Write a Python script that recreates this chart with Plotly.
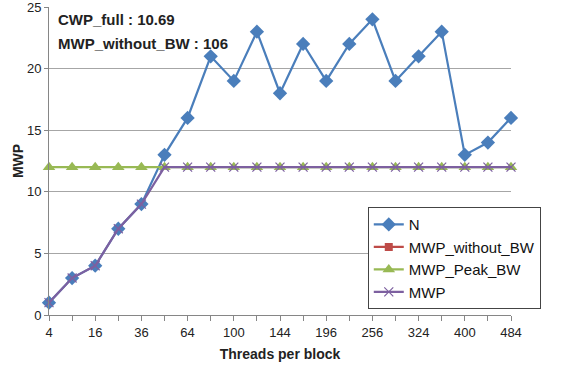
import plotly.graph_objects as go

threads = [4, 9, 16, 25, 36, 49, 64, 81, 100, 121, 144, 169, 196, 225, 256, 289, 324, 361, 400, 441, 484]
n_vals = [1, 3, 4, 7, 9, 13, 16, 21, 19, 23, 18, 22, 19, 22, 24, 19, 21, 23, 13, 14, 16]
mwp_without_bw = [106] * 21
mwp_peak_bw = [12] * 21
mwp = [1, 3, 4, 7, 9, 12, 12, 12, 12, 12, 12, 12, 12, 12, 12, 12, 12, 12, 12, 12, 12]
y_ticks = [0, 5, 10, 15, 20, 25]

idx = list(range(len(threads)))
ticktext = [str(t) if i % 2 == 0 else "" for i, t in enumerate(threads)]

FONT = "Liberation Sans"
fig = go.Figure()
fig.add_trace(go.Scatter(x=idx, y=n_vals, name="N", mode="lines+markers",
                         line=dict(color="#4A7EBB", width=2.2),
                         marker=dict(symbol="diamond", size=11, color="#4A7EBB"),
                         cliponaxis=False))
fig.add_trace(go.Scatter(x=idx, y=mwp_without_bw, name="MWP_without_BW", mode="lines+markers",
                         line=dict(color="#BE4B48", width=2.2),
                         marker=dict(symbol="square", size=8, color="#BE4B48"),
                         cliponaxis=True))
fig.add_trace(go.Scatter(x=idx, y=mwp_peak_bw, name="MWP_Peak_BW", mode="lines+markers",
                         line=dict(color="#98B954", width=2.2),
                         marker=dict(symbol="triangle-up", size=11, color="#98B954"),
                         cliponaxis=False))
fig.add_trace(go.Scatter(x=idx, y=mwp, name="MWP", mode="lines+markers",
                         line=dict(color="#7D60A0", width=2.2),
                         marker=dict(symbol="x-thin", size=9, line=dict(color="#7D60A0", width=1.2)),
                         cliponaxis=False))

fig.update_layout(
    width=579, height=370,
    margin=dict(l=49, r=68, t=7, b=55, autoexpand=False),
    paper_bgcolor="white", plot_bgcolor="white",
    font=dict(family=FONT, size=13, color="#222222"),
    showlegend=True,
    legend=dict(x=0.69, y=0.35, xanchor="left", yanchor="top",
                bgcolor="white", bordercolor="#444444", borderwidth=1,
                font=dict(family=FONT, size=15, color="#111111"),
                tracegroupgap=0, itemwidth=30),
    xaxis=dict(range=[0, 20], tickmode="array", tickvals=idx, ticktext=ticktext,
               automargin=False,
               showgrid=False, zeroline=False, showline=True, linecolor="#868686", linewidth=1,
               ticks="outside", ticklen=5, tickcolor="#868686",
               tickfont=dict(size=13, color="#222222"),
               title=dict(text="<b>Threads per block</b>", font=dict(size=14, color="#222222"), standoff=10)),
    yaxis=dict(range=[0, 25.001], tickmode="array", tickvals=y_ticks,
               showgrid=True, gridcolor="#A6A6A6", gridwidth=1,
               automargin=False, ticklabeloverflow="allow",
               zeroline=False, showline=True, linecolor="#868686", linewidth=1,
               ticks="outside", ticklen=4, tickcolor="#868686",
               tickfont=dict(size=13, color="#222222"),
               title=dict(text="<b>MWP</b>", font=dict(size=14, color="#222222"), standoff=0)),
)
fig.add_annotation(xref="paper", yref="paper", x=0.015, y=0.958, xanchor="left", yanchor="middle",
                   text="<b>CWP_full : 10.69</b>", showarrow=False,
                   font=dict(family=FONT, size=15, color="#222222"))
fig.add_annotation(xref="paper", yref="paper", x=0.015, y=0.883, xanchor="left", yanchor="middle",
                   text="<b>MWP_without_BW : 106</b>", showarrow=False,
                   font=dict(family=FONT, size=15, color="#222222"))

fig.write_html("out.html", config={"displayModeBar": False},
               post_script="document.body.style.margin='0px';")
